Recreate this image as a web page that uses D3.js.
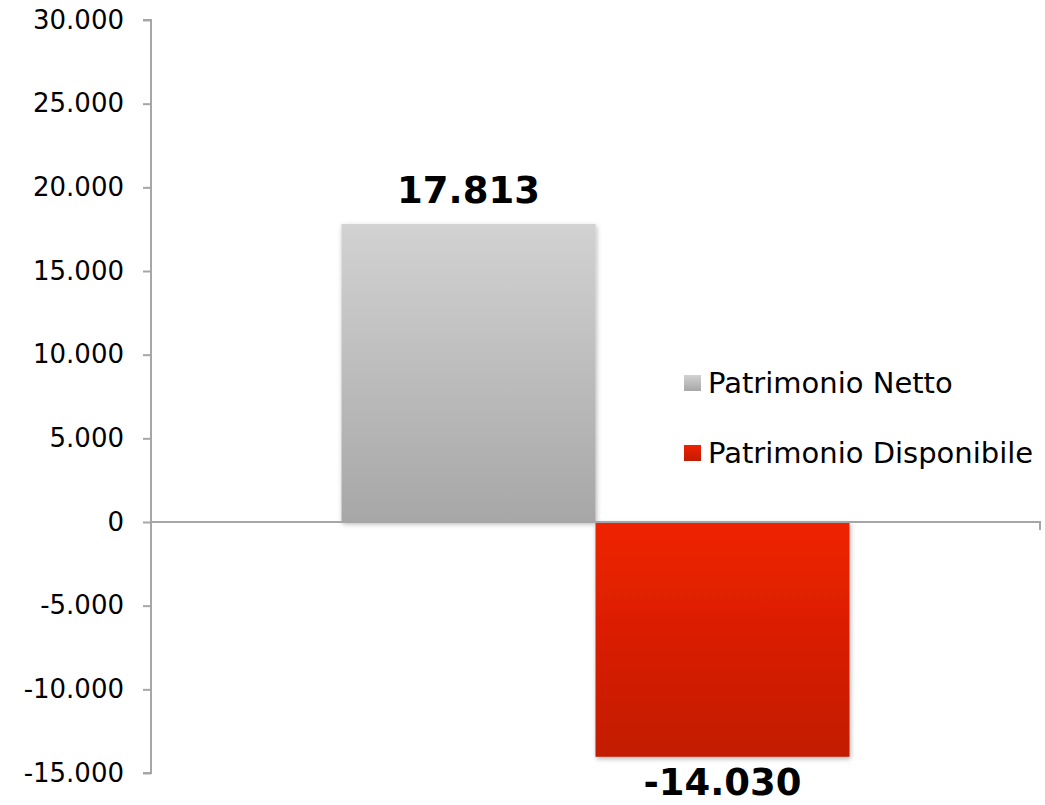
<!DOCTYPE html>
<html>
<head>
<meta charset="utf-8">
<script src="https://cdn.jsdelivr.net/npm/d3@7"></script>
<style>
  html, body { margin: 0; padding: 0; background: #fff; }
  svg { display: block; font-family: "DejaVu Sans", Verdana, sans-serif; }
</style>
</head>
<body>
<svg id="chart" width="1045" height="805"></svg>
<script>
// ---- data ----
const categories = ["Patrimonio"];
const seriesNames = ["Patrimonio Netto", "Patrimonio Disponibile"];
const seriesValues = [17813, -14030];
const tickValues = [-15000, -10000, -5000, 0, 5000, 10000, 15000, 20000, 25000, 30000];
const yDomain = [-15000, 30000];

// ---- layout ----
const svg = d3.select("#chart");
const mLeft = 151, mRight = 1040, mTop = 20, mBottom = 773;

const it = d3.formatLocale({ decimal: ",", thousands: ".", grouping: [3], currency: ["€", ""], minus: "-" });
const fmt = it.format(",d");

const y = d3.scaleLinear().domain(yDomain).range([mBottom, mTop]);
const x0 = d3.scaleBand().domain(categories).range([mLeft, mRight]).padding(0);
const x1 = d3.scaleBand().domain(seriesNames).range([0, x0.bandwidth()]).paddingInner(0).paddingOuter(0.75);

const defs = svg.append("defs");
const gGray = defs.append("linearGradient").attr("id", "gGray").attr("x1", 0).attr("y1", 0).attr("x2", 0).attr("y2", 1);
gGray.append("stop").attr("offset", "0%").attr("stop-color", "#d2d2d2");
gGray.append("stop").attr("offset", "100%").attr("stop-color", "#a7a7a7");
const gRed = defs.append("linearGradient").attr("id", "gRed").attr("x1", 0).attr("y1", 0).attr("x2", 0).attr("y2", 1);
gRed.append("stop").attr("offset", "0%").attr("stop-color", "#ef2200");
gRed.append("stop").attr("offset", "100%").attr("stop-color", "#c21b00");
const fills = ["url(#gGray)", "url(#gRed)"];

const shadow = defs.append("filter").attr("id", "shadow").attr("x", "-10%").attr("y", "-10%").attr("width", "120%").attr("height", "120%");
shadow.append("feDropShadow").attr("dx", 1).attr("dy", 2).attr("stdDeviation", 2.5).attr("flood-color", "#000").attr("flood-opacity", 0.3);

// ---- y axis ----
const yAxis = d3.axisLeft(y).tickValues(tickValues).tickFormat(fmt).tickSize(8).tickPadding(19);
const ga = svg.append("g").attr("transform", `translate(${mLeft},0)`).call(yAxis);
ga.select(".domain").attr("stroke", "#a6a6a6").attr("stroke-width", 2).attr("d", `M-8,${mTop}H0V${mBottom}H-8`);
ga.selectAll(".tick line").attr("stroke", "#a6a6a6").attr("stroke-width", 2);
ga.selectAll(".tick text").attr("font-size", 26).attr("fill", "#000")
  .attr("font-family", "'DejaVu Sans', Verdana, sans-serif");

// ---- bars ----
const bars = svg.append("g");
categories.forEach(cat => {
  seriesNames.forEach((s, i) => {
    const v = seriesValues[i];
    bars.append("rect")
      .attr("x", x0(cat) + x1(s))
      .attr("width", x1.bandwidth())
      .attr("y", y(Math.max(0, v)))
      .attr("height", Math.abs(y(v) - y(0)))
      .attr("fill", fills[i])
      .attr("filter", "url(#shadow)");
  });
});

// ---- zero (category) axis ----
const za = svg.append("g");
za.append("path").attr("d", `M${mLeft},${y(0)}H${mRight}V${y(0) + 8}`)
  .attr("fill", "none").attr("stroke", "#a6a6a6").attr("stroke-width", 2);

// ---- data labels ----
categories.forEach(cat => {
  seriesNames.forEach((s, i) => {
    const v = seriesValues[i];
    const cx = x0(cat) + x1(s) + x1.bandwidth() / 2;
    svg.append("text")
      .attr("x", cx)
      .attr("y", v >= 0 ? y(v) - 21 : y(v) + 38)
      .attr("text-anchor", "middle")
      .attr("font-size", 37)
      .attr("font-weight", "bold")
      .attr("fill", "#000")
      .text(fmt(v));
  });
});

// ---- legend ----
const legend = svg.append("g").attr("transform", "translate(684,0)");
const legendY = [375, 445];
seriesNames.forEach((s, i) => {
  legend.append("rect").attr("x", 0).attr("y", legendY[i]).attr("width", 17).attr("height", 16).attr("fill", fills[i]);
  legend.append("text").attr("x", 24).attr("y", legendY[i] + 18)
    .attr("font-size", 29).attr("fill", "#000").text(s);
});
</script>
</body>
</html>
